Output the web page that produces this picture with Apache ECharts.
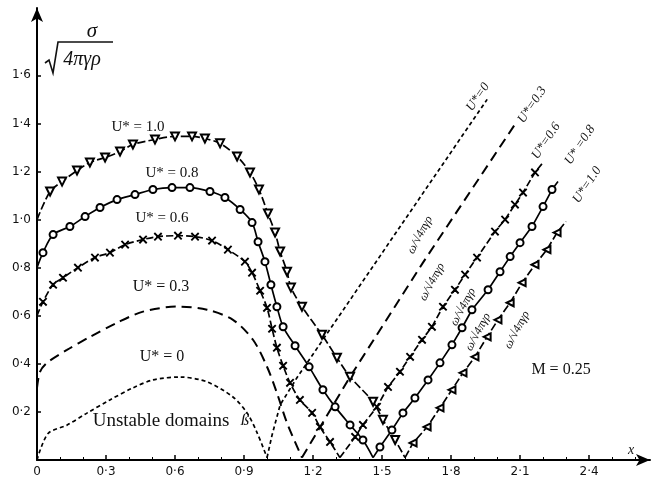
<!DOCTYPE html>
<html>
<head>
<meta charset="utf-8">
<script src="https://cdn.jsdelivr.net/npm/echarts@6/dist/echarts.min.js"></script>
<style>
  html, body { margin: 0; padding: 0; background: #fff; }
  #chart { width: 655px; height: 479px; }
</style>
</head>
<body>
<div id="chart"></div>
<script>
// tick labels
var xTicks = [0, 0.3, 0.6, 0.9, 1.2, 1.5, 1.8, 2.1, 2.4];
var yTicks = [0.2, 0.4, 0.6, 0.8, 1.0, 1.2, 1.4, 1.6];

// U* = 0 (short dashes)
var u00Left = [[0, 0], [0.048, 0.11], [0.13, 0.145], [0.217, 0.195], [0.317, 0.25], [0.417, 0.30],
  [0.504, 0.333], [0.622, 0.345], [0.739, 0.325], [0.852, 0.262], [0.913, 0.196], [0.957, 0.113], [1.0, 0.01]];
var u00Right = [[1.0, 0.01], [1.022, 0.104], [1.057, 0.229], [1.13, 0.342], [1.591, 0.988], [1.957, 1.5]];

// U* = 0.3 (long dashes)
var u03Left = [[0, 0.30], [0.013, 0.367], [0.043, 0.404], [0.13, 0.458], [0.23, 0.512], [0.348, 0.571],
  [0.461, 0.617], [0.609, 0.638], [0.739, 0.625], [0.852, 0.583], [0.939, 0.5], [1.0, 0.388],
  [1.043, 0.279], [1.087, 0.154], [1.152, 0.01]];
var u03Right = [[1.152, 0.01], [1.361, 0.346], [1.678, 0.821], [2.078, 1.396]];

// U* = 0.6 (crosses)
var u06Left = [[0, 0.6], [0.026, 0.658], [0.07, 0.729], [0.113, 0.758], [0.178, 0.8], [0.252, 0.842],
  [0.317, 0.8625], [0.383, 0.896], [0.461, 0.917], [0.526, 0.929], [0.613, 0.933], [0.687, 0.929],
  [0.761, 0.9125], [0.83, 0.875], [0.904, 0.825], [0.935, 0.779], [0.97, 0.704], [1.0, 0.633],
  [1.022, 0.546], [1.043, 0.467], [1.07, 0.392], [1.1, 0.321], [1.143, 0.25], [1.196, 0.196],
  [1.23, 0.1375], [1.274, 0.075], [1.317, 0.01]];
var u06Right = [[1.317, 0.01], [1.383, 0.096], [1.417, 0.146], [1.478, 0.221], [1.526, 0.304],
  [1.578, 0.367], [1.622, 0.429], [1.674, 0.5], [1.717, 0.554], [1.765, 0.6375], [1.817, 0.708],
  [1.861, 0.771], [1.913, 0.842], [1.991, 0.95], [2.035, 1.0], [2.078, 1.0625], [2.113, 1.1125],
  [2.165, 1.196], [2.2, 1.2375]];

// U* = 0.8 (circles)
var u08Left = [[0, 0.8], [0.026, 0.8625], [0.07, 0.9375], [0.143, 0.971], [0.209, 1.0125], [0.274, 1.05],
  [0.348, 1.083], [0.426, 1.104], [0.504, 1.125], [0.587, 1.133], [0.665, 1.133], [0.752, 1.117],
  [0.817, 1.092], [0.883, 1.042], [0.935, 0.9875], [0.961, 0.908], [0.991, 0.825], [1.017, 0.729],
  [1.043, 0.6375], [1.07, 0.554], [1.122, 0.475], [1.183, 0.3875], [1.243, 0.292], [1.296, 0.221],
  [1.361, 0.146], [1.417, 0.083], [1.461, 0.01]];
var u08Right = [[1.461, 0.01], [1.491, 0.054], [1.543, 0.125], [1.591, 0.196], [1.643, 0.258], [1.7, 0.333],
  [1.752, 0.404], [1.804, 0.479], [1.848, 0.55], [1.891, 0.625], [1.961, 0.708], [2.013, 0.783],
  [2.057, 0.846], [2.1, 0.904], [2.152, 0.971], [2.2, 1.054], [2.239, 1.125], [2.265, 1.158]];

// U* = 1.0 (triangles)
var u10Left = [[0, 1.0], [0.057, 1.117], [0.109, 1.158], [0.174, 1.204], [0.23, 1.2375], [0.296, 1.258],
  [0.361, 1.283], [0.417, 1.3125], [0.513, 1.333], [0.6, 1.346], [0.674, 1.346], [0.73, 1.3375],
  [0.796, 1.317], [0.87, 1.2625], [0.926, 1.196], [0.965, 1.125], [1.004, 1.025], [1.035, 0.946],
  [1.057, 0.867], [1.087, 0.783], [1.104, 0.717], [1.152, 0.6375], [1.239, 0.521], [1.304, 0.425],
  [1.361, 0.346], [1.461, 0.242], [1.504, 0.167], [1.557, 0.083], [1.6, 0.01]];
var u10Right = [[1.6, 0.01], [1.635, 0.071], [1.696, 0.1375], [1.752, 0.217], [1.804, 0.292],
  [1.852, 0.3625], [1.904, 0.429], [1.957, 0.5125], [2.004, 0.583], [2.057, 0.654], [2.109, 0.7375],
  [2.165, 0.8125], [2.217, 0.875], [2.261, 0.946], [2.3, 0.992]];

var crossPath = 'path://M0,0.7L0.7,0L5,4.3L9.3,0L10,0.7L5.7,5L10,9.3L9.3,10L5,5.7L0.7,10L0,9.3L4.3,5Z';
var serif = '"Liberation Serif", "DejaVu Serif", serif';

function fmt(v) {
    if (Math.abs(v) < 1e-9) return '0';
    return v.toFixed(1).replace('.', '·');
}

// no marker on the first and last point of a branch (axis start, V bottom, line end)
function marker(name, count) {
    return function (value, params) {
        if (params.dataIndex === 0 || params.dataIndex === count - 1) return 'none';
        return name;
    };
}

function curve(data, opts) {
    return Object.assign({
        type: 'line',
        data: data,
        smooth: false,
        showSymbol: false,
        showAllSymbol: true,
        symbolSize: 7,
        itemStyle: { color: '#000', borderColor: '#000', borderWidth: 1.2 },
        lineStyle: { color: '#000', width: 1.7, type: 'solid' },
        z: 3
    }, opts);
}

var chart = echarts.init(document.getElementById('chart'));

function label(text, x, y, size, rot, style) {
    return {
        type: 'text', x: x, y: y, rotation: rot || 0, z: 10,
        style: {
            text: text,
            font: (style || '') + ' ' + size + 'px ' + serif,
            fill: '#111',
            align: 'center', verticalAlign: 'middle',
            textAlign: 'center', textVerticalAlign: 'middle'
        }
    };
}

var slant = 56 * Math.PI / 180;
var slantW = 62 * Math.PI / 180;

var option = {
    animation: false,
    backgroundColor: '#fff',
    grid: { left: 37, right: 5, top: 8, bottom: 19, containLabel: false, outerBoundsMode: 'none' },
    xAxis: {
        type: 'value',
        min: 0, max: 2.665, interval: 0.3,
        splitLine: { show: false },
        axisLine: { lineStyle: { color: '#000', width: 2 }, symbol: ['none', 'arrow'], symbolSize: [9, 14] },
        axisTick: { inside: true, length: 5, lineStyle: { color: '#000', width: 1.5 }, customValues: xTicks },
        minorTick: { show: true, splitNumber: 3, length: 3, lineStyle: { color: '#000', width: 1 } },
        axisLabel: {
            customValues: xTicks, formatter: fmt, margin: 6,
            color: '#111', fontSize: 12, fontFamily: '"DejaVu Sans", sans-serif'
        }
    },
    yAxis: {
        type: 'value',
        min: 0, max: 1.88, interval: 0.2,
        splitLine: { show: false },
        axisLine: { lineStyle: { color: '#000', width: 2 }, symbol: ['none', 'arrow'], symbolSize: [9, 14] },
        axisTick: { inside: true, length: 4, lineStyle: { color: '#000', width: 1.5 }, customValues: yTicks },
        axisLabel: {
            customValues: yTicks, formatter: fmt, margin: 6,
            color: '#111', fontSize: 12, fontFamily: '"DejaVu Sans", sans-serif'
        }
    },
    series: [
        curve(u00Left, { smooth: 0.3, lineStyle: { color: '#000', width: 1.7, type: [4, 3] } }),
        curve(u00Right, { lineStyle: { color: '#000', width: 1.7, type: [4, 3] } }),
        curve(u03Left, { smooth: 0.3, lineStyle: { color: '#000', width: 2, type: [10, 6] } }),
        curve(u03Right, { lineStyle: { color: '#000', width: 2, type: [10, 6] } }),
        curve(u06Left, { smooth: 0.3, showSymbol: true, symbol: marker(crossPath, u06Left.length), symbolSize: 7,
            lineStyle: { color: '#000', width: 1.7, type: [7, 3] } }),
        curve(u06Right, { showSymbol: true, symbol: marker(crossPath, u06Right.length), symbolSize: 7,
            lineStyle: { color: '#000', width: 1.7, type: [7, 3] } }),
        curve(u08Left, { smooth: 0.3, showSymbol: true, symbol: marker('emptyCircle', u08Left.length), symbolSize: 7 }),
        curve(u08Right, { showSymbol: true, symbol: marker('emptyCircle', u08Right.length), symbolSize: 7 }),
        curve(u10Left, { smooth: 0.3, showSymbol: true, symbol: marker('emptyTriangle', u10Left.length),
            symbolRotate: 180, symbolSize: 8,
            lineStyle: { color: '#000', width: 1.7, type: [8, 3] } }),
        curve(u10Right, { showSymbol: true, symbol: marker('emptyTriangle', u10Right.length),
            symbolRotate: 90, symbolSize: 7,
            lineStyle: { color: '#000', width: 1.7, type: [8, 3] } })
    ],
    graphic: [
        // y axis title: sigma / sqrt(4 pi gamma rho)
        label('σ', 92, 31, 21, 0, 'italic'),
        { type: 'polyline', z: 10, shape: { points: [[45, 63], [49, 60], [53, 73], [58, 42], [113, 42]] },
          style: { stroke: '#111', lineWidth: 1.6, fill: null } },
        label('4πγρ', 82, 60, 20, 0, 'italic'),
        label('x', 631, 450, 14, 0, 'italic'),

        label('U* = 1.0', 138, 127, 15),
        label('U* = 0.8', 172, 173, 15),
        label('U* = 0.6', 162, 218, 15),
        label('U* = 0.3', 161, 287, 16),
        label('U* = 0', 162, 357, 16),
        label('Unstable domains', 161, 421, 19),
        label('ß', 245, 421, 17, 0, 'italic'),
        label('M = 0.25', 561, 370, 16),

        label('U*=0', 478, 97, 13, slant, 'italic'),
        label('U*=0.3', 532, 105, 13, slant, 'italic'),
        label('U*=0.6', 546, 141, 13, slant, 'italic'),
        label('U* =0.8', 580, 145, 13, slant, 'italic'),
        label('U*=1.0', 587, 185, 13, slant, 'italic'),

        label('ω/√4πγρ', 420, 235, 12, slantW, 'italic'),
        label('ω/√4πγρ', 432, 282, 12, slantW, 'italic'),
        label('ω/√4πγρ', 463, 307, 12, slantW, 'italic'),
        label('ω/√4πγρ', 478, 332, 12, slantW, 'italic'),
        label('ω/√4πγρ', 517, 330, 12, slantW, 'italic')
    ]
};

chart.setOption(option);
window.addEventListener('resize', function () {
    chart.resize();
});
</script>
</body>
</html>
